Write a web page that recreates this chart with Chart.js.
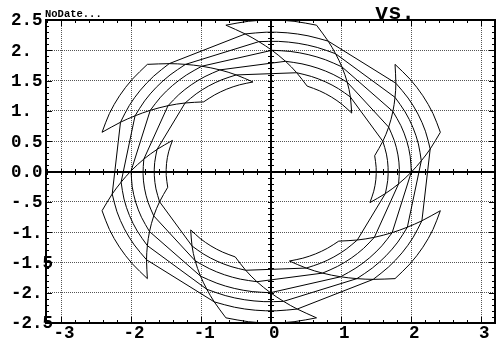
<!DOCTYPE html>
<html>
<head>
<meta charset="utf-8">
<script src="https://cdn.jsdelivr.net/npm/chart.js@4.4.0/dist/chart.umd.min.js"></script>
<style>
html, body { margin: 0; padding: 0; background: #fff; }
#wrap { position: relative; width: 497px; height: 342px; }
.lbl { position: absolute; font-family: 'Liberation Mono', monospace; font-weight: bold; line-height: 1; white-space: pre; color: #000; }
</style>
</head>
<body>
<div id="wrap">
  <canvas id="plot" width="497" height="342"></canvas>
  <div class="lbl" style="left:45px; top:9px; font-size:10.5px;">NoDate...</div>
  <div class="lbl" style="left:375px; top:2.5px; font-size:22px;">vs.</div>
</div>
<script>
// mesh rings, outer edge first (radius in data units) and how far each ring is turned (degrees)
const meshRadii = [2.5, 2.3, 2.15, 2.0, 1.83, 1.67, 1.5];
const meshTurn = [0, -5.7, -10.3, -15.3, -21.4, -27.6, -35];

// six bands; each starts at these angles on the outer edge and is 30 degrees wide
const bandStarts = [15, 75, 135, 195, 255, 315];
const bandSteps = [0, 7.5, 15, 22.5, 30];
// between two bands the inner rings are plain straight pieces
const gapEnds = [30, 60];
// the two sides of a band
const spokeSides = [0, 30];

// axis ticks
const xTicks = [-3, -2, -1, 0, 1, 2, 3];
const xTickLabels = ['-3', '-2', '-1', '0', '1', '2', '3'];
const yTicks = [-2.5, -2, -1.5, -1, -0.5, 0, 0.5, 1, 1.5, 2, 2.5];
const yTickLabels = ['-2.5', '-2.', '-1.5', '-1.', '-.5', '0.0', '0.5', '1.', '1.5', '2.', '2.5'];

const rad = Math.PI / 180;
const polar = (r, a) => ({ x: r * Math.cos(a * rad), y: r * Math.sin(a * rad) });

const datasets = [];
// curved ring pieces inside each band (outer and inner edge included)
meshRadii.forEach((r, i) => {
    bandStarts.forEach(a => {
        datasets.push({ data: bandSteps.map(s => polar(r, a + meshTurn[i] + s)), tension: 0.33 });
    });
});
// straight ring pieces across the gaps (inner rings only)
meshRadii.forEach((r, i) => {
    if (i === 0 || i === meshRadii.length - 1) return;
    bandStarts.forEach(a => {
        datasets.push({ data: gapEnds.map(s => polar(r, a + meshTurn[i] + s)), tension: 0 });
    });
});
// twisted spokes from outer edge to inner edge
bandStarts.forEach(a => {
    spokeSides.forEach(side => {
        datasets.push({ data: meshRadii.map((r, i) => polar(r, a + side + meshTurn[i])), tension: 0.33 });
    });
});
datasets.forEach(ds => {
    ds.showLine = true;
    ds.borderColor = '#000';
    ds.borderWidth = 1;
    ds.pointRadius = 0;
});

const tickFont = { family: "'Liberation Mono', monospace", size: 17.5, weight: 'bold' };

// frame, zero axes, small tick marks and the left-aligned y labels
const framePlugin = {
    id: 'frame',
    afterDraw(chart) {
        const { ctx, chartArea: a, scales: { x, y } } = chart;
        const x0 = Math.round(x.getPixelForValue(0));
        const y0 = Math.round(y.getPixelForValue(0));
        ctx.save();
        ctx.strokeStyle = '#000';
        ctx.lineWidth = 2;
        ctx.beginPath();
        ctx.moveTo(a.left, y0); ctx.lineTo(a.right, y0);
        ctx.moveTo(x0, a.top); ctx.lineTo(x0, a.bottom);
        ctx.stroke();
        ctx.lineWidth = 1;
        ctx.beginPath();
        for (let i = -16; i <= 16; i++) {
            const v = i * 0.2;
            if (v < x.min || v > x.max) continue;
            const px = Math.round(x.getPixelForValue(v)) + 0.5;
            const len = i % 5 === 0 ? 6 : 3;
            ctx.moveTo(px, a.top); ctx.lineTo(px, a.top + len);
            ctx.moveTo(px, a.bottom); ctx.lineTo(px, a.bottom - len);
            ctx.moveTo(px, y0 - 3); ctx.lineTo(px, y0 + 3);
        }
        for (let i = -25; i <= 25; i++) {
            const py = Math.round(y.getPixelForValue(i / 10)) + 0.5;
            const len = i % 5 === 0 ? 6 : 3;
            ctx.moveTo(a.left, py); ctx.lineTo(a.left + len, py);
            ctx.moveTo(a.right, py); ctx.lineTo(a.right - len, py);
            ctx.moveTo(x0 - 3, py); ctx.lineTo(x0 + 3, py);
        }
        ctx.stroke();
        ctx.lineWidth = 2;
        ctx.strokeRect(a.left, a.top, a.right - a.left, a.bottom - a.top);

        ctx.fillStyle = '#000';
        ctx.font = "bold 17.5px 'Liberation Mono', monospace";
        ctx.textAlign = 'left';
        ctx.textBaseline = 'middle';
        yTicks.forEach((v, i) => {
            ctx.fillText(yTickLabels[i], 11, y.getPixelForValue(v) + 1);
        });
        ctx.restore();
    }
};

new Chart(document.getElementById('plot').getContext('2d'), {
    type: 'scatter',
    data: { datasets: datasets },
    options: {
        responsive: false,
        animation: false,
        layout: { padding: { left: 11, top: 20, right: 2, bottom: 0 } },
        plugins: {
            legend: { display: false },
            tooltip: { enabled: false }
        },
        scales: {
            x: {
                type: 'linear',
                min: -3.215,
                max: 3.195,
                afterBuildTicks: s => { s.ticks = xTicks.map(v => ({ value: v })); },
                afterFit: s => { s.height = 19; },
                grid: { color: '#555', lineWidth: 1, drawTicks: false },
                border: { display: false, dash: [1, 1] },
                ticks: {
                    color: '#000',
                    font: tickFont,
                    padding: 0,
                    labelOffset: 3,
                    maxRotation: 0,
                    callback: v => xTickLabels[xTicks.indexOf(v)]
                }
            },
            y: {
                type: 'linear',
                min: -2.5,
                max: 2.5,
                afterBuildTicks: s => { s.ticks = yTicks.map(v => ({ value: v })); },
                afterFit: s => { s.width = 35; },
                grid: { color: '#555', lineWidth: 1, drawTicks: false },
                border: { display: false, dash: [1, 1] },
                ticks: { display: false }
            }
        }
    },
    plugins: [framePlugin]
});
</script>
</body>
</html>
